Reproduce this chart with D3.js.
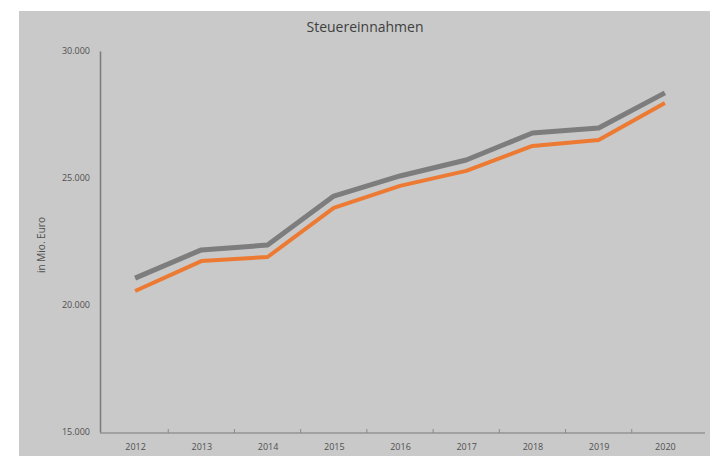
<!DOCTYPE html>
<html>
<head>
<meta charset="utf-8">
<script src="https://cdn.jsdelivr.net/npm/d3@7"></script>
<style>
  body { margin: 0; background: #fff; }
  text { font-family: "Open Sans", "DejaVu Sans", sans-serif; }
</style>
</head>
<body>
<script>
// Daten
var years = ["2012", "2013", "2014", "2015", "2016", "2017", "2018", "2019", "2020"];
var seriesGrey = [21060, 22170, 22360, 24290, 25080, 25710, 26770, 26970, 28350];
var seriesOrange = [20550, 21730, 21890, 23820, 24690, 25280, 26260, 26500, 27950];
var yTicks = [15000, 20000, 25000, 30000];

var svg = d3.select("body").append("svg").attr("width", 715).attr("height", 462);

// Hintergrund
svg.append("rect").attr("x", 19).attr("y", 11).attr("width", 691).attr("height", 445)
  .style("fill", "#c9c9c9");

var x = d3.scalePoint().domain(years).range([102, 698]).padding(0.5);
var y = d3.scaleLinear().domain([15000, 30000]).range([432, 51]);

var fmt = function(v) { return d3.format(",")(v).replace(/,/g, "."); };

// Y-Achse
var yAxis = svg.append("g").attr("transform", "translate(100,0)")
  .call(d3.axisLeft(y).tickValues(yTicks).tickSize(0).tickPadding(10).tickFormat(fmt));
yAxis.select(".domain").attr("stroke", "#7a7a7a").attr("stroke-width", 1.5);
yAxis.selectAll("text").style("font-size", "9px").style("fill", "#505050");

// X-Achse
var xAxis = svg.append("g").attr("transform", "translate(0,433)")
  .call(d3.axisBottom(x).tickSize(0).tickPadding(11));
xAxis.select(".domain").attr("d", "M100,0H705").attr("stroke", "#7a7a7a").attr("stroke-width", 1.2);
xAxis.selectAll("text").style("font-size", "9px").style("fill", "#505050");

// kleine Striche zwischen den Kategorien
svg.selectAll(".catTick").data(years.slice(1)).enter().append("line")
  .attr("x1", function(d) { return x(d) - x.step() / 2; })
  .attr("x2", function(d) { return x(d) - x.step() / 2; })
  .attr("y1", 429).attr("y2", 433)
  .attr("stroke", "#8a8a8a").attr("stroke-width", 1);

// Linien
var line = d3.line().x(function(d, i) { return x(years[i]); }).y(function(d) { return y(d); });

svg.append("path").datum(seriesGrey).attr("d", line)
  .attr("fill", "none").attr("stroke", "#7d7d7d").attr("stroke-width", 5)
  .attr("stroke-linejoin", "round");

svg.append("path").datum(seriesOrange).attr("d", line)
  .attr("fill", "none").attr("stroke", "#ec7a33").attr("stroke-width", 4)
  .attr("stroke-linejoin", "round");

// Titel
svg.append("text").attr("x", 365).attr("y", 32).attr("text-anchor", "middle")
  .style("font-size", "14px").style("fill", "#404040").text("Steuereinnahmen");

// Achsentitel
svg.append("text").attr("transform", "translate(45,245) rotate(-90)").attr("text-anchor", "middle")
  .style("font-size", "10px").style("fill", "#505050").text("in Mio. Euro");
</script>
</body>
</html>
